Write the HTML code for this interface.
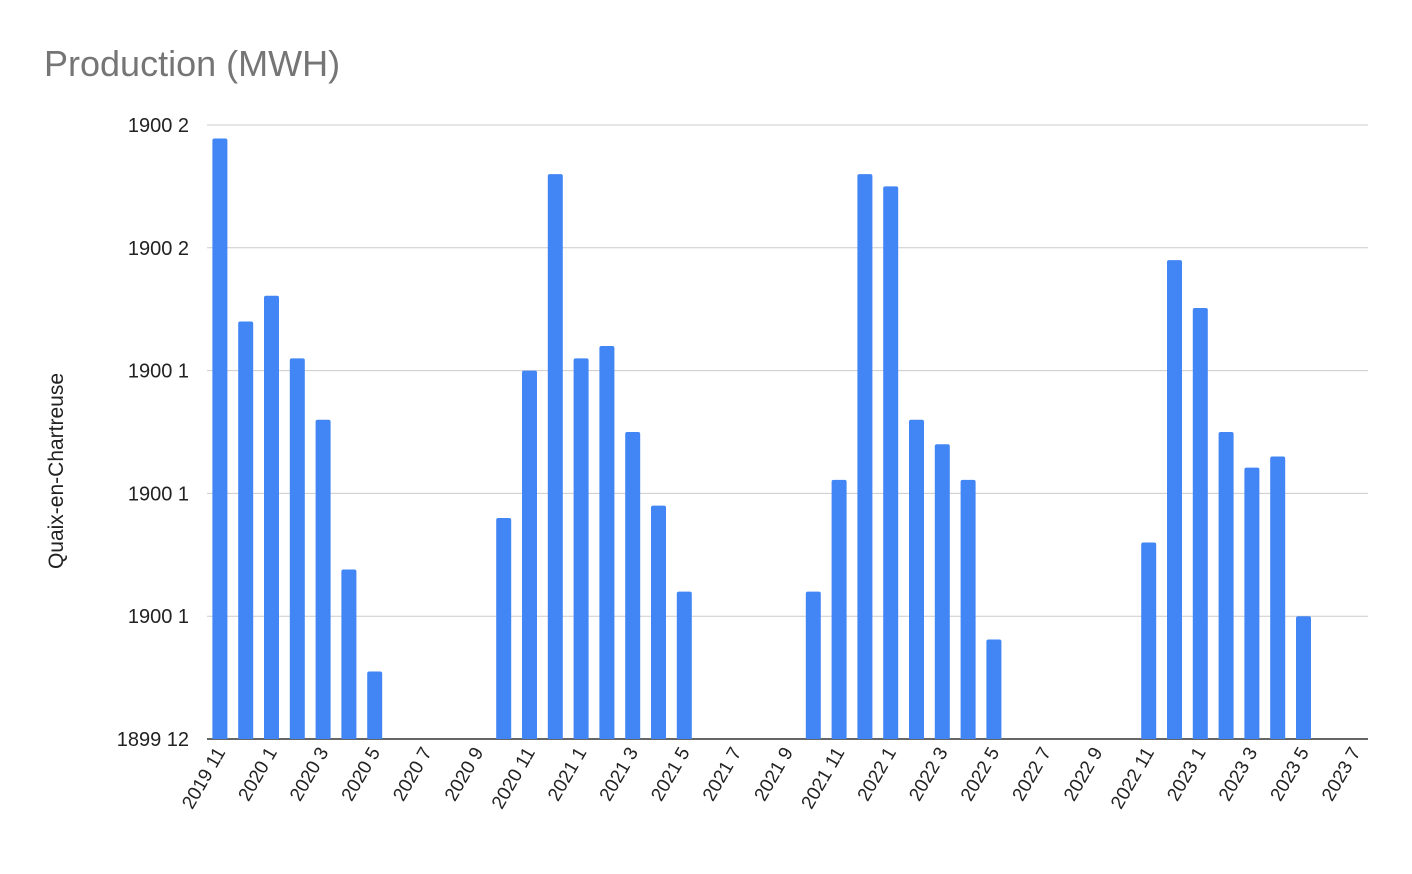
<!DOCTYPE html>
<html><head><meta charset="utf-8"><style>
body{margin:0;background:#fff;}
svg{display:block;font-family:"Liberation Sans",sans-serif;}
</style></head><body>
<svg id="chart" width="1412" height="874" viewBox="0 0 1412 874">
<text x="44" y="76" font-size="36" fill="#757575">Production (MWH)</text>
<text transform="translate(63,471) rotate(-90)" text-anchor="middle" font-size="21" fill="#222">Quaix-en-Chartreuse</text>
<g id="grid"></g><g id="bars"></g><g id="xlabels"></g>
</svg>
<script>
const categories = [];
(function(){let y=2019,m=11;for(let i=0;i<45;i++){categories.push(y+' '+m);m++;if(m>12){m=1;y++;}}})();
const values = [4.89,3.40,3.61,3.10,2.60,1.38,0.55,0,0,0,0,1.80,3.00,4.60,3.10,3.20,2.50,1.90,1.20,0,0,0,0,1.20,2.11,4.60,4.50,2.60,2.40,2.11,0.81,0,0,0,0,0,1.60,3.90,3.51,2.50,2.21,2.30,1.00,0,0];
const yTickValues = [0,1,2,3,4,5];
const yTickLabels = ['1899 12','1900 1','1900 1','1900 1','1900 2','1900 2'];
const NS='http://www.w3.org/2000/svg';
const x0=207,x1=1368,yBase=739,yTop=125,yMax=5;
const slot=(x1-x0)/categories.length;
function xScale(i){return x0+slot*(i+0.5);}
function yScale(v){return yBase-(yBase-yTop)*v/yMax;}
const grid=document.getElementById('grid'),bars=document.getElementById('bars'),xl=document.getElementById('xlabels');
yTickValues.forEach((v,i)=>{
  const y=yScale(v);
  const l=document.createElementNS(NS,'line');
  
  
  l.setAttribute('x1',x0);l.setAttribute('x2',x1);l.setAttribute('y1',y);l.setAttribute('y2',y);
  l.setAttribute('stroke',v===0?'#333':'#ccc');l.setAttribute('stroke-width',v===0?1.5:1);
  grid.appendChild(l);
  const t=document.createElementNS(NS,'text');
  
  
  t.setAttribute('x',189);t.setAttribute('y',y+7);t.setAttribute('text-anchor','end');
  t.setAttribute('font-size','20');t.setAttribute('fill','#222');t.textContent=yTickLabels[i];
  grid.appendChild(t);
});
values.forEach((v,i)=>{
  if(v<=0)return;
  const cx=xScale(i),w=15,top=yScale(v),h=yBase-top,r=2;
  const p=document.createElementNS(NS,'path');
  
  
  const l=cx-w/2;
  p.setAttribute('d',`M${l},${yBase}V${top+r}Q${l},${top} ${l+r},${top}H${l+w-r}Q${l+w},${top} ${l+w},${top+r}V${yBase}Z`);
  p.setAttribute('fill','#4285f4');
  bars.appendChild(p);
});
categories.forEach((c,i)=>{
  if(i%2)return;
  const cx=xScale(i)+6,y=752;
  const t=document.createElementNS(NS,'text');
  
  
  t.setAttribute('transform',`translate(${cx},${y}) rotate(-60)`);
  t.setAttribute('text-anchor','end');t.setAttribute('font-size','19');t.setAttribute('fill','#222');
  t.textContent=c;xl.appendChild(t);
});
</script>
</body></html>
